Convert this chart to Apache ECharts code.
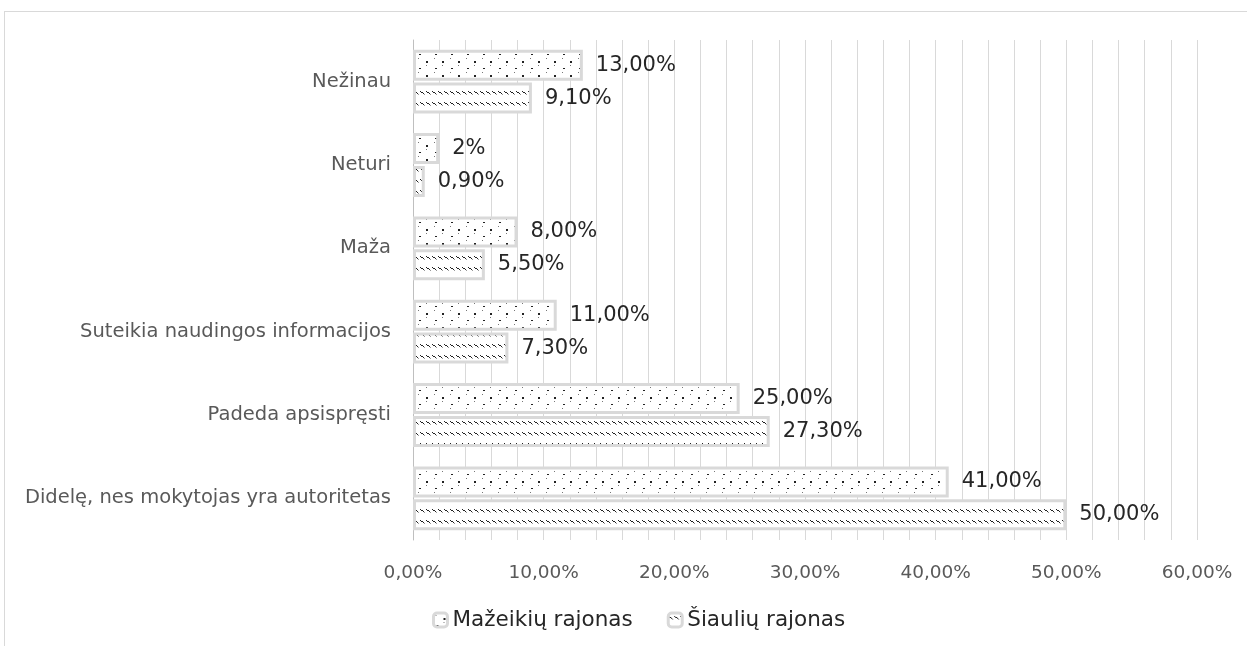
<!DOCTYPE html>
<html><head><meta charset="utf-8">
<script src="https://cdn.jsdelivr.net/npm/echarts@6/dist/echarts.min.js"></script>
<style>
html,body{margin:0;padding:0;background:#fff;}
#frame{position:absolute;left:4px;top:11px;width:1260px;height:660px;border:1px solid #d9d9d9;box-sizing:border-box;}
#main{position:absolute;left:0;top:0;width:1247px;height:646px;}
</style></head>
<body><div id="frame"></div><div id="main"></div>
<script>
const categories = ['Didelę, nes mokytojas yra autoritetas','Padeda apsispręsti','Suteikia naudingos informacijos','Maža','Neturi','Nežinau'];
const mazeikiai = [41, 25, 11, 8, 2, 13];
const siauliai = [50, 27.3, 7.3, 5.5, 0.9, 9.1];
const mazeikiaiLabels = ['41,00%','25,00%','11,00%','8,00%','2%','13,00%'];
const siauliaiLabels = ['50,00%','27,30%','7,30%','5,50%','0,90%','9,10%'];
const seriesNames = ['Mažeikių rajonas','Šiaulių rajonas'];

function dotPattern(){
  const c=document.createElement('canvas');c.width=16;c.height=14;
  const g=c.getContext('2d');g.fillStyle='#fff';g.fillRect(0,0,16,14);
  g.fillStyle='#777';g.fillRect(2,2,1,1);g.fillRect(10,9,1,1);
  g.fillStyle='#222';g.fillRect(10,5,2,2);g.fillRect(3,12,2,1);
  return c;
}
function hatchPattern(){
  const c=document.createElement('canvas');c.width=6;c.height=11;
  const g=c.getContext('2d');g.fillStyle='#fff';g.fillRect(0,0,6,11);
  g.fillStyle='#222';
  g.fillRect(0,3,1,1);g.fillRect(1,4,2,1);g.fillRect(3,5,1,1);
  g.fillStyle='#999';g.fillRect(4,6,1,1);
  return c;
}
const F = 'DejaVu Sans';
const chart = echarts.init(document.getElementById('main'));
const fmt = v => v.toFixed(2).replace('.',',')+'%';
chart.setOption({
  animation:false,
  textStyle:{fontFamily:F},
  grid:{left:413,right:50,top:40,bottom:106,containLabel:false},
  legend:{top:604,left:427,itemWidth:14,itemHeight:14,itemGap:34,
    itemStyle:{borderWidth:3,borderColor:'#d9d9d9'},
    textStyle:{fontSize:21.5,color:'#262626',fontFamily:F},data:seriesNames},
  xAxis:{type:'value',min:0,max:60,interval:10,
    axisLine:{show:false},axisTick:{show:false},
    axisLabel:{formatter:v=>fmt(v),fontSize:18.5,color:'#595959',margin:24},
    splitLine:{show:true,lineStyle:{color:'#d9d9d9',width:1}},
    minorTick:{show:false,splitNumber:5},
    minorSplitLine:{show:true,lineStyle:{color:'#d9d9d9',width:1}}},
  yAxis:{type:'category',data:categories,
    axisLine:{show:true,lineStyle:{color:'#bfbfbf',width:1}},axisTick:{show:false},
    axisLabel:{fontSize:19.5,color:'#595959',margin:22}},
  series:[
    {name:seriesNames[0],type:'bar',data:mazeikiai,barWidth:31,barGap:'6%',
     itemStyle:{color:{image:dotPattern(),repeat:'repeat'},borderColor:'#d9d9d9',borderWidth:3},
     label:{show:true,position:'right',distance:13,fontSize:21,color:'#262626',
       formatter:p=>mazeikiaiLabels[p.dataIndex]}},
    {name:seriesNames[1],type:'bar',data:siauliai,barWidth:31,barGap:'6%',
     itemStyle:{color:{image:hatchPattern(),repeat:'repeat'},borderColor:'#d9d9d9',borderWidth:3},
     label:{show:true,position:'right',distance:13,fontSize:21,color:'#262626',
       formatter:p=>siauliaiLabels[p.dataIndex]}}
  ]
});
</script></body></html>
